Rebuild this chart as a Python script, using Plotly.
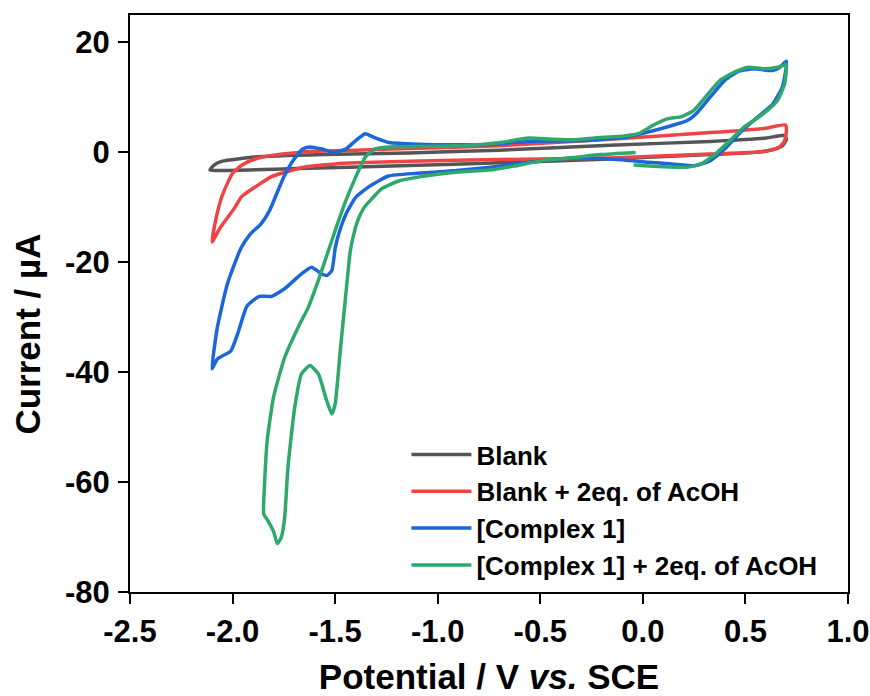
import plotly.graph_objects as go

# ---- data (potential V vs SCE, current uA) ----
blank_v = [-2.11, -2.09, -2.05, -1.89, -1.56, -1.14, -0.70, -0.16, 0.33, 0.60, 0.69,
           0.70, 0.68, 0.62, 0.55, 0.33, -0.16, -0.70, -1.14, -1.73, -2.05, -2.11]
blank_i = [-3.2, -2.3, -1.6, -0.85, -0.4, -0.1, 0.4, 1.3, 2.0, 2.6, 3.1,
           2.4, 1.2, 0.4, 0.0, -0.4, -1.2, -1.9, -2.4, -3.0, -3.3, -3.2]

acid_v = [-2.10, -2.08, -2.05, -2.00, -1.95, -1.89, -1.80, -1.73, -1.61, -1.40, -1.14,
          -0.70, -0.16, 0.33, 0.60, 0.695, 0.70, 0.69, 0.66, 0.58, 0.33, -0.16, -0.70,
          -1.14, -1.40, -1.50, -1.64, -1.81, -1.89, -1.955, -1.99, -2.06, -2.10]
acid_i = [-16.3, -11.9, -7.8, -3.8, -2.2, -1.2, -0.5, -0.2, 0.2, 0.4, 0.7,
          1.2, 2.4, 3.6, 4.4, 5.0, 3.9, 2.0, 0.8, 0.1, -0.3, -1.0, -1.3,
          -1.6, -1.9, -2.1, -2.6, -4.4, -6.3, -8.0, -10.1, -13.7, -16.3]

cplx_v = [0.699, 0.699, 0.68, 0.633, 0.54, 0.469, 0.399, 0.329, 0.259, 0.142, 0.025,
          -0.092, -0.326, -0.56, -0.72, -0.91, -1.10, -1.24, -1.33, -1.40, -1.448,
          -1.483, -1.50, -1.516, -1.54, -1.566, -1.615, -1.664, -1.746, -1.811, -1.87,
          -1.93, -1.975, -2.008, -2.074, -2.10, -2.074, -2.025, -1.96, -1.915, -1.861,
          -1.82, -1.752, -1.705, -1.658, -1.623, -1.565, -1.506, -1.448, -1.401, -1.354,
          -1.308, -1.237, -1.097, -0.91, -0.723, -0.559, -0.326, -0.092, 0.025, 0.142,
          0.212, 0.259, 0.329, 0.399, 0.469, 0.54, 0.633, 0.668, 0.699]
cplx_i = [16.6, 15.5, 11.9, 8.8, 5.8, 3.4, 0.6, -1.5, -2.4, -2.1, -1.8,
          -1.4, -1.0, -1.8, -2.6, -3.3, -3.8, -4.3, -6.1, -8.2, -11.3,
          -14.9, -17.5, -21.5, -22.4, -22.1, -20.9, -22.1, -24.8, -26.2, -26.2,
          -28.0, -33.0, -36.1, -37.6, -39.4, -31.8, -23.9, -17.5, -14.9, -13.0,
          -10.6, -4.6, -1.5, 0.6, 1.0, 0.6, 0.0, 0.6, 2.1, 3.4,
          2.7, 1.8, 1.5, 1.4, 1.5, 2.0, 2.1, 2.7, 3.7, 4.9,
          5.7, 7.0, 10.1, 13.1, 14.8, 15.2, 14.9, 15.5, 16.6]

cplx_acid_v = [-0.035, -0.209, -0.326, -0.49, -0.63, -0.723, -0.91, -1.097, -1.19, -1.273,
               -1.32, -1.36, -1.39, -1.41, -1.426, -1.451, -1.475, -1.50, -1.516, -1.541,
               -1.582, -1.623, -1.664, -1.697, -1.73, -1.746, -1.762, -1.782, -1.80, -1.828,
               -1.848, -1.844, -1.83, -1.80, -1.746, -1.68, -1.631, -1.582, -1.533, -1.495,
               -1.448, -1.401, -1.354, -1.308, -1.237, -1.027, -0.77, -0.676, -0.559, -0.442,
               -0.326, -0.209, -0.092, -0.022, 0.048, 0.119, 0.189, 0.247, 0.306, 0.376,
               0.446, 0.516, 0.586, 0.657, 0.699, 0.699, 0.691, 0.657, 0.586, 0.493,
               0.423, 0.353, 0.282, 0.212, 0.095, -0.045]
cplx_acid_i = [0.0, -0.4, -0.9, -1.5, -2.5, -3.1, -3.6, -4.5, -5.2, -6.6,
               -8.4, -10.1, -12.4, -15.0, -17.9, -27.0, -36.1, -45.8, -47.6, -45.2,
               -40.3, -38.8, -40.3, -46.4, -57.3, -66.4, -70.0, -71.2, -69.0, -67.0,
               -65.8, -60.3, -52.0, -44.5, -37.3, -31.8, -28.2, -23.3, -17.9, -13.7,
               -8.8, -4.6, -0.9, 0.6, 1.0, 1.1, 1.5, 1.9, 2.6, 2.4,
               2.3, 2.7, 3.0, 3.4, 4.9, 6.1, 6.5, 7.6, 10.1, 13.1,
               14.6, 15.5, 15.2, 15.5, 16.0, 15.0, 12.5, 9.5, 7.0, 4.6,
               2.1, -0.3, -2.1, -2.7, -2.6, -2.3]

names = ["Blank", "Blank + 2eq. of AcOH", "[Complex 1]", "[Complex 1] + 2eq. of AcOH"]
colors = ["#555555", "#F04444", "#1A66DA", "#2FA96B"]
series = [(blank_v, blank_i), (acid_v, acid_i), (cplx_v, cplx_i), (cplx_acid_v, cplx_acid_i)]

x_ticks = [-2.5, -2.0, -1.5, -1.0, -0.5, 0.0, 0.5, 1.0]
x_ticktext = ["-2.5", "-2.0", "-1.5", "-1.0", "-0.5", "0.0", "0.5", "1.0"]
y_ticks = [-80, -60, -40, -20, 0, 20]
y_ticktext = ["-80", "-60", "-40", "-20", "0", "20"]

FONT = "Arial, 'Liberation Sans', Helvetica, sans-serif"

fig = go.Figure()
for (xv, yv), nm, col in zip(series, names, colors):
    fig.add_trace(go.Scatter(
        x=xv, y=yv, mode="lines", name=nm,
        line=dict(color=col, width=3.5, shape="spline", smoothing=0.5),
    ))

axis_common = dict(
    showline=True, linecolor="black", linewidth=2, mirror=True,
    ticks="outside", ticklen=10, tickwidth=2, tickcolor="black",
    showgrid=False, zeroline=False,
    tickfont=dict(family=FONT, size=31, color="black", weight="bold"),
)

fig.update_xaxes(
    range=[-2.5, 1.0], tickmode="array", tickvals=x_ticks, ticktext=x_ticktext,
    ticklabelstandoff=1,
    title=dict(text="<b>Potential / V <i>vs.</i> SCE</b>", standoff=20,
               font=dict(family=FONT, size=35, color="black")),
    **axis_common,
)
fig.update_yaxes(
    range=[-80, 25], tickmode="array", tickvals=y_ticks, ticktext=y_ticktext,
    ticklabelstandoff=2,
    **axis_common,
)

fig.add_annotation(
    text="<b>Current / µA</b>", textangle=-90,
    xref="paper", yref="paper", x=-0.1428, y=0.447,
    xanchor="center", yanchor="middle", showarrow=False,
    font=dict(family=FONT, size=35, color="black"),
)

fig.update_layout(
    width=870, height=696,
    margin=dict(l=130, r=22, t=15, b=104, autoexpand=False),
    paper_bgcolor="white", plot_bgcolor="white",
    showlegend=True,
    legend=dict(
        x=0.385, y=0.005, xanchor="left", yanchor="bottom",
        bgcolor="rgba(0,0,0,0)", borderwidth=0,
        font=dict(family=FONT, size=26, color="black", weight="bold"),
        itemwidth=60, tracegroupgap=0,
    ),
)

fig.write_html("out.html")
